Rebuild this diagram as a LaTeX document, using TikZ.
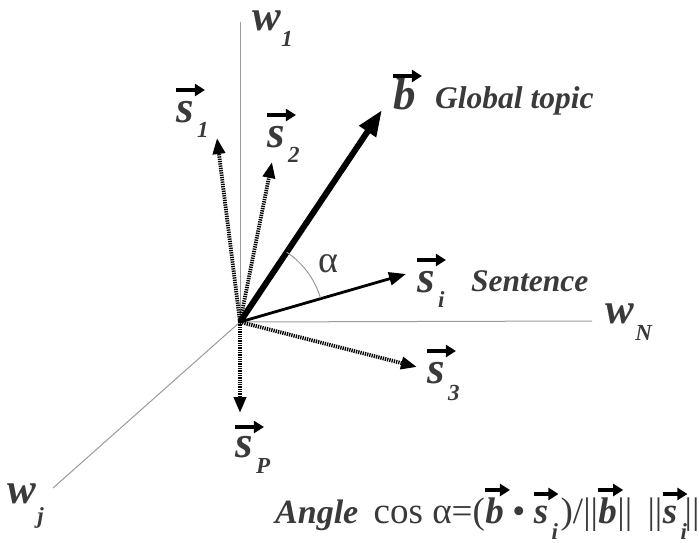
\documentclass[tikz,border=0pt]{standalone}
\usepackage{fontspec}
\setmainfont{Liberation Serif}
\usetikzlibrary{arrows.meta,calc}
\definecolor{txt}{HTML}{3A3A3A}
\definecolor{axiscol}{HTML}{9A9A9A}
\begin{document}
\begin{tikzpicture}[x=1pt,y=-1pt,
  axisline/.style={draw=axiscol,line width=1pt},
  bigvec/.style={line width=6pt,-{Triangle[length=26pt,width=19pt]}},
  solidvec/.style={line width=2.8pt,-{Triangle[length=17pt,width=13pt]}},
  dotvec/.style={line width=3.8pt,dash pattern=on 1.3pt off 1pt,-{Triangle[length=16pt,width=12pt]}},
  varrow/.style={line width=3.2pt,-{Triangle[length=10pt,width=12pt]}},
  vlab/.style={anchor=base west,inner sep=0pt,text=txt,font=\fontsize{45}{45}\selectfont\bfseries\itshape},
  sublab/.style={anchor=base west,inner sep=0pt,text=txt,font=\fontsize{23}{23}\selectfont\bfseries\itshape},
  wlab/.style={anchor=base west,inner sep=0pt,text=txt,font=\fontsize{43}{43}\selectfont\bfseries\itshape},
  wordlab/.style={anchor=base west,inner sep=0pt,text=txt,font=\fontsize{31.5}{31.5}\selectfont\bfseries\itshape},
  fmlrm/.style={anchor=base west,inner sep=0pt,text=txt,font=\fontsize{37}{37}\selectfont},
  fmlbi/.style={anchor=base west,inner sep=0pt,text=txt,font=\fontsize{37}{37}\selectfont\bfseries\itshape},
  anglearc/.style={draw=axiscol,line width=1pt}
]
\useasboundingbox (0,0) rectangle (699,543);

% origin and axis ends
\coordinate (O) at (240,322);
\coordinate (w1end) at (240,22);
\coordinate (wNend) at (592,321);
\coordinate (wjend) at (53,488);
% vector tips
\coordinate (btip) at (382,110);
\coordinate (sitip) at (406,274);
\coordinate (s1tip) at (217,138);
\coordinate (s2tip) at (272,162);
\coordinate (s3tip) at (417,367);
\coordinate (sPtip) at (240,413);

% axes
\draw[axisline] (O) -- (w1end);
\draw[axisline] (O) -- (wNend);
\draw[axisline] (O) -- (wjend);

% dotted vectors
\draw[dotvec] (O) -- (s1tip);
\draw[dotvec] (O) -- (s2tip);
\draw[dotvec] (O) -- (s3tip);
\draw[dotvec] (O) -- (sPtip);

% solid vectors
\draw[bigvec] (O) -- (btip);
\draw[solidvec] (O) -- (sitip);

% angle
\draw[anglearc] (O) ++(-56.2:84) arc[start angle=-56.2, end angle=-16.8, radius=84];
\node[fmlrm,font=\fontsize{38}{38}\selectfont] (alpha) at (318,272) {α};

% axis labels
\node[wlab] (w1) at (252,31) {w};
\node[sublab] (w1sub) at ([xshift=0pt,yshift=-16pt]w1.base east) {1};
\node[wlab] (wN) at (605,323) {w};
\node[sublab] (wNsub) at ([xshift=1pt,yshift=-17pt]wN.base east) {N};
\node[wlab] (wj) at (7,503) {w};
\node[sublab] (wjsub) at ([xshift=1pt,yshift=-20pt]wj.base east) {j};

% vector labels
\node[vlab] (s1) at (176,122) {s};
\node[sublab] (s1sub) at ([xshift=3pt,yshift=-15pt]s1.base east) {1};
\draw[varrow] ([yshift=32pt]s1.base west) -- ([yshift=32pt,xshift=11pt]s1.base east);

\node[vlab] (s2) at (267,147) {s};
\node[sublab] (s2sub) at ([xshift=3pt,yshift=-15pt]s2.base east) {2};
\draw[varrow] ([yshift=32pt]s2.base west) -- ([yshift=32pt,xshift=11pt]s2.base east);

\node[vlab] (b) at (393,110) {b};
\draw[varrow] ([yshift=34pt,xshift=0pt]b.base west) -- ([yshift=34pt,xshift=6pt]b.base east);
\node[wordlab] (global) at (435,109) {Global topic};

\node[vlab] (si) at (417,292) {s};
\node[sublab] (sisub) at ([xshift=3pt,yshift=-15pt]si.base east) {i};
\draw[varrow] ([yshift=32pt]si.base west) -- ([yshift=32pt,xshift=11pt]si.base east);
\node[wordlab] (sentence) at (471,291) {Sentence};

\node[vlab] (s3) at (427,383) {s};
\node[sublab] (s3sub) at ([xshift=3pt,yshift=-17pt]s3.base east) {3};
\draw[varrow] ([yshift=32pt]s3.base west) -- ([yshift=32pt,xshift=11pt]s3.base east);

\node[vlab] (sP) at (235,457) {s};
\node[sublab] (sPsub) at ([xshift=3pt,yshift=-16pt]sP.base east) {P};
\draw[varrow] ([yshift=30pt]sP.base west) -- ([yshift=30pt,xshift=11pt]sP.base east);

% formula
\node[fmlbi,font=\fontsize{34}{34}\selectfont\bfseries\itshape] (f1) at (275,523) {Angle};
\node[fmlrm] (f2) at ([xshift=15pt]f1.base east) {cos α=(};
\node[fmlbi] (f3) at (f2.base east) {b};
\draw[varrow] ([yshift=33pt]f3.base west) -- ([yshift=33pt,xshift=6pt]f3.base east);
\node[fmlrm] (f4) at ([xshift=2pt]f3.base east) {\,•\,};
\node[fmlbi] (f5) at ([xshift=2pt]f4.base east) {s};
\draw[varrow] ([yshift=29pt]f5.base west) -- ([yshift=29pt,xshift=10pt]f5.base east);
\node[sublab] (f5sub) at ([xshift=3pt,yshift=-16pt]f5.base east) {i};
\node[fmlrm] (f6) at ([xshift=12pt]f5.base east) {)/||};
\node[fmlbi] (f7) at (f6.base east) {b};
\draw[varrow] ([yshift=33pt]f7.base west) -- ([yshift=33pt,xshift=6pt]f7.base east);
\node[fmlrm] (f8) at (f7.base east) {|| \,||};
\node[fmlbi] (f9) at (f8.base east) {s};
\draw[varrow] ([yshift=29pt]f9.base west) -- ([yshift=29pt,xshift=10pt]f9.base east);
\node[sublab] (f9sub) at ([xshift=3pt,yshift=-16pt]f9.base east) {i};
\node[fmlrm] (f10) at ([xshift=7pt]f9.base east) {||};
\end{tikzpicture}
\end{document}
